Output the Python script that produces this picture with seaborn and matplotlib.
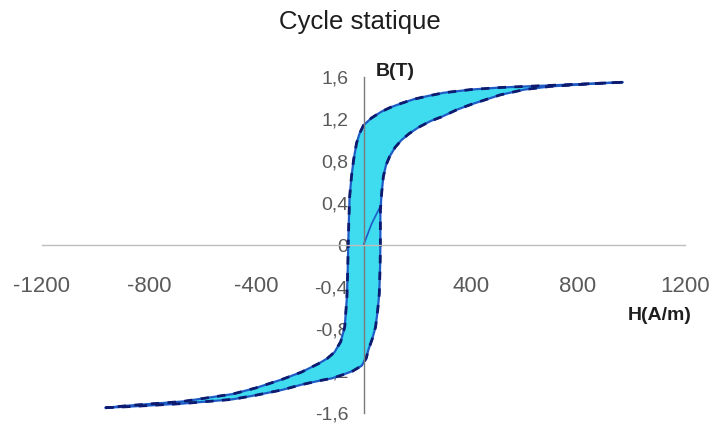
import matplotlib
matplotlib.use("Agg")
import matplotlib.pyplot as plt
import seaborn as sns
import pandas as pd

# ---- data ----
# descending branch (from +H_max to -H_max)
H_desc = [967, 880, 696, 511, 400, 300, 242, 190, 142, 100, 67, 30, 0, -15, -26, -37, -45, -52, -55, -57,
          -59, -62, -70, -85, -108, -135, -168, -231, -304, -400, -489, -674, -880, -963]
B_desc = [1.55, 1.54, 1.52, 1.50, 1.48, 1.45, 1.42, 1.39, 1.35, 1.31, 1.27, 1.21, 1.14, 1.06, 0.97, 0.81, 0.65, 0.45, 0.20, 0.0,
          -0.25, -0.50, -0.78, -0.92, -1.02, -1.08, -1.13, -1.21, -1.28, -1.36, -1.42, -1.49, -1.53, -1.55]

# ascending branch (from -H_max to +H_max)
H_asc = [-963, -880, -674, -489, -400, -304, -231, -160, -118, -82, -40, -7, 10, 18, 32, 45, 53, 59, 62, 63,
         63, 68, 74, 84, 97, 118, 142, 170, 205, 250, 291, 350, 403, 511, 600, 696, 880, 967]
B_asc = [-1.55, -1.54, -1.51, -1.47, -1.43, -1.38, -1.33, -1.29, -1.27, -1.24, -1.20, -1.15, -1.08, -1.00, -0.90, -0.78, -0.62, -0.46, -0.20, 0.0,
         0.33, 0.50, 0.65, 0.76, 0.84, 0.93, 1.00, 1.06, 1.12, 1.18, 1.22, 1.29, 1.34, 1.43, 1.48, 1.51, 1.54, 1.55]

# first magnetisation curve
H_init = [0, 30, 67]
B_init = [0.0, 0.20, 0.39]

x_ticks = [-1200, -800, -400, 400, 800, 1200]
x_ticklabels = ["-1200", "-800", "-400", "400", "800", "1200"]
y_ticks = [1.6, 1.2, 0.8, 0.4, 0.0, -0.4, -0.8, -1.2, -1.6]
y_ticklabels = ["1,6", "1,2", "0,8", "0,4", "0", "-0,4", "-0,8", "-1,2", "-1,6"]

title = "Cycle statique"
ylabel = "B(T)"
xlabel = "H(A/m)"

# ---- style ----
sns.set_style("white")
plt.rcParams["font.family"] = ["Liberation Sans", "DejaVu Sans"]

W, Hh = 711, 423
fig = plt.figure(figsize=(W / 100, Hh / 100), dpi=100)
ax = fig.add_axes([42 / W, (Hh - 413) / Hh, 643 / W, 336 / Hh])

# fill of the loop
ax.fill(H_desc + H_asc, B_desc + B_asc, color="#3fdcef", zorder=1, lw=0)

df_desc = pd.DataFrame({"H": H_desc, "B": B_desc})
df_asc = pd.DataFrame({"H": H_asc, "B": B_asc})
df_init = pd.DataFrame({"H": H_init, "B": B_init})

for d in (df_desc, df_asc):
    sns.lineplot(data=d, x="H", y="B", sort=False, estimator=None, ax=ax,
                 color="#1e5bc6", lw=1.6, zorder=3)
    sns.lineplot(data=d, x="H", y="B", sort=False, estimator=None, ax=ax,
                 color="#0d1a6e", lw=2.0, zorder=4, linestyle=(0, (3, 3)))
sns.lineplot(data=df_init, x="H", y="B", sort=False, estimator=None, ax=ax,
             color="#1e5bc6", lw=1.2, zorder=3)

ax.set_xlim(-1200, 1200)
ax.set_ylim(-1.6, 1.6)

for s in ("top", "right"):
    ax.spines[s].set_visible(False)
ax.spines["left"].set_position(("data", 0))
ax.spines["bottom"].set_position(("data", 0))
ax.spines["left"].set_color("#7a7a7a")
ax.spines["bottom"].set_color("#bdbdbd")
ax.spines["left"].set_linewidth(1.0)
ax.spines["bottom"].set_linewidth(1.0)
ax.spines["left"].set_zorder(5)
ax.spines["bottom"].set_zorder(5)

ax.set_xticks(x_ticks)
ax.set_xticklabels(x_ticklabels)
ax.set_yticks(y_ticks)
ax.set_yticklabels(y_ticklabels)
ax.tick_params(axis="x", direction="out", length=3, width=0.8, color="#999999",
               pad=19, labelsize=16, labelcolor="#5a5a5a")
ax.tick_params(axis="y", direction="out", length=3, width=0.8, color="#7a7a7a",
               pad=8, labelsize=14, labelcolor="#5a5a5a")
ax.set_xlabel("")
ax.set_ylabel("")
ax.grid(False)
ax.patch.set_alpha(0)

fig.text(360 / W, 1 - 22 / Hh, title, ha="center", va="center", fontsize=18.5,
         color="#1e1e1e")
fig.text(395 / W, 1 - 72 / Hh, ylabel, ha="center", va="center", fontsize=14,
         fontweight="bold", color="#1e1e1e")
fig.text(660 / W, 1 - 316 / Hh, xlabel, ha="center", va="center", fontsize=14,
         fontweight="bold", color="#1e1e1e")

fig.savefig("out.png", dpi=100)
